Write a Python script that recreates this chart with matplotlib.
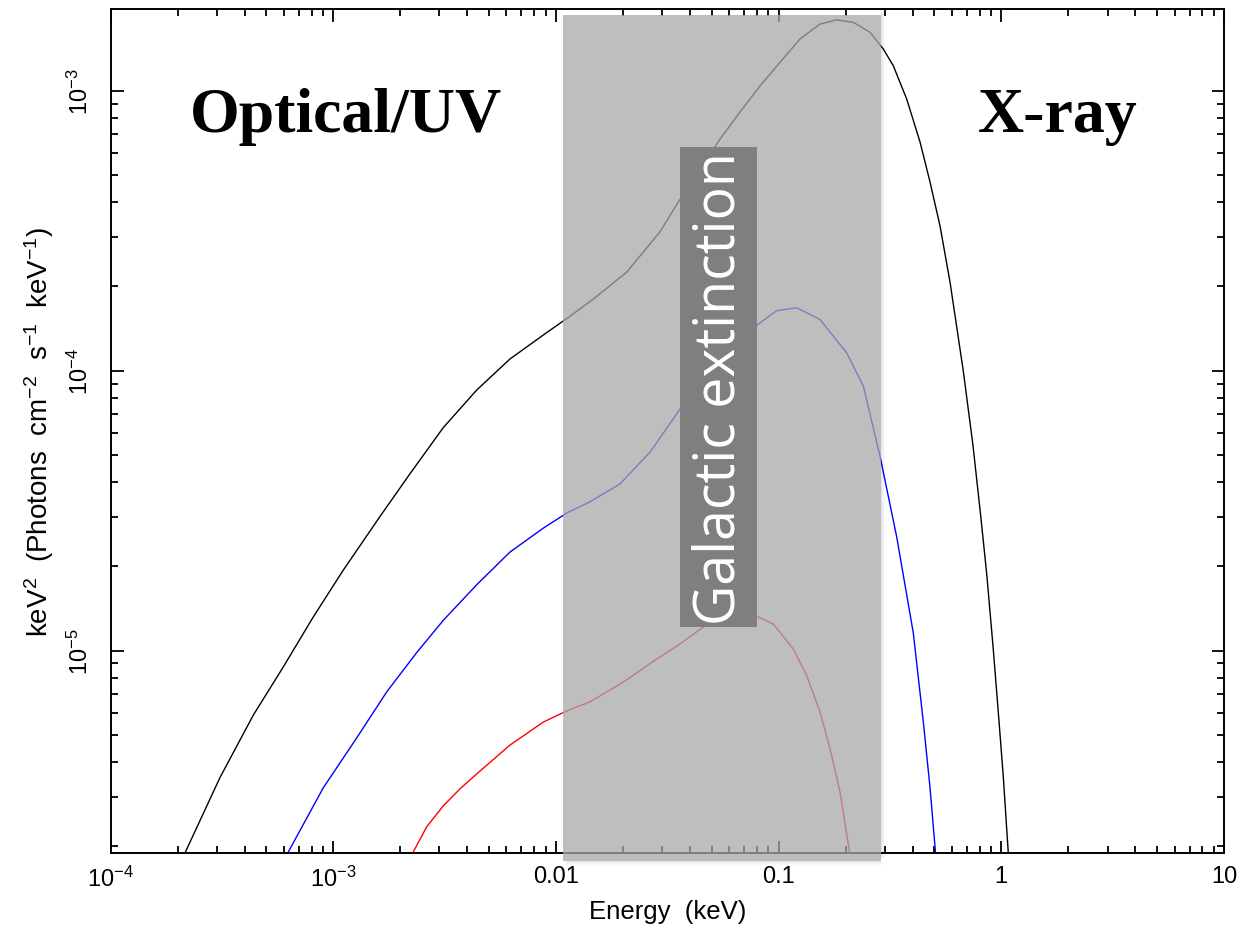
import matplotlib
matplotlib.use("Agg")
import matplotlib.pyplot as plt
from matplotlib.patches import Rectangle
from matplotlib.ticker import LogLocator, NullFormatter

plt.rcParams['font.family'] = ['Liberation Sans', 'DejaVu Sans']
plt.rcParams['mathtext.fontset'] = 'custom'
plt.rcParams['mathtext.rm'] = 'Liberation Sans'
plt.rcParams['mathtext.it'] = 'Liberation Sans:italic'
plt.rcParams['mathtext.bf'] = 'Liberation Sans:bold'

# model spectra, E in keV, flux in keV^2 (photons cm^-2 s^-1 keV^-1)
black_E = [2.13e-4, 3.10e-4, 4.38e-4, 5.97e-4, 8.14e-4, 1.11e-3, 1.62e-3, 2.21e-3,
           3.12e-3, 4.41e-3, 6.22e-3, 8.78e-3, 1.118e-2, 1.47e-2, 2.08e-2, 2.93e-2,
           3.61e-2, 4.44e-2, 5.46e-2, 6.71e-2, 8.25e-2, 0.1015, 0.1247, 0.1535,
           0.1824, 0.2164, 0.2573, 0.2951, 0.3273, 0.376, 0.4315, 0.4786, 0.5306,
           0.5886, 0.675, 0.7457, 0.8075, 0.860, 0.9196, 0.9772, 1.021, 1.077]
black_F = [1.85e-6, 3.52e-6, 5.89e-6, 8.75e-6, 1.32e-5, 1.94e-5, 3.01e-5, 4.28e-5,
           6.26e-5, 8.53e-5, 1.101e-4, 1.341e-4, 1.535e-4, 1.80e-4, 2.25e-4, 3.13e-4,
           4.10e-4, 5.25e-4, 6.72e-4, 8.39e-4, 1.04e-3, 1.263e-3, 1.53e-3, 1.73e-3,
           1.79e-3, 1.755e-3, 1.617e-3, 1.41e-3, 1.228e-3, 9.34e-4, 6.56e-4, 4.72e-4,
           3.29e-4, 2.07e-4, 9.98e-5, 5.43e-5, 3.05e-5, 1.88e-5, 1.02e-5, 5.56e-6,
           3.54e-6, 1.85e-6]

blue_E = [6.15e-4, 9.03e-4, 1.275e-3, 1.74e-3, 2.37e-3, 3.12e-3, 4.41e-3, 6.22e-3,
          8.78e-3, 1.118e-2, 1.42e-2, 1.94e-2, 2.65e-2, 3.36e-2, 3.61e-2, 4.44e-2,
          5.46e-2, 6.71e-2, 8.11e-2, 9.80e-2, 0.1206, 0.1535, 0.2021, 0.240, 0.2853,
          0.339, 0.4026, 0.4466, 0.4786, 0.508]
blue_F = [1.85e-6, 3.24e-6, 4.88e-6, 7.13e-6, 9.84e-6, 1.283e-5, 1.72e-5, 2.25e-5,
          2.74e-5, 3.10e-5, 3.40e-5, 3.94e-5, 5.125e-5, 6.72e-5, 7.30e-5, 8.82e-5,
          1.065e-4, 1.266e-4, 1.468e-4, 1.638e-4, 1.677e-4, 1.523e-4, 1.159e-4, 8.82e-5,
          4.96e-5, 2.55e-5, 1.157e-5, 5.56e-6, 3.24e-6, 1.85e-6]

red_E = [2.24e-3, 2.63e-3, 3.12e-3, 3.71e-3, 4.41e-3, 6.22e-3, 8.78e-3, 1.118e-2,
         1.42e-2, 2.01e-2, 2.84e-2, 3.61e-2, 4.59e-2, 5.46e-2, 6.71e-2, 8.11e-2,
         9.47e-2, 0.1164, 0.1337, 0.1535, 0.1702, 0.1887, 0.2095]
red_F = [1.85e-6, 2.35e-6, 2.79e-6, 3.21e-6, 3.63e-6, 4.60e-6, 5.56e-6, 6.09e-6,
         6.56e-6, 7.73e-6, 9.34e-6, 1.057e-5, 1.215e-5, 1.287e-5, 1.341e-5, 1.319e-5,
         1.245e-5, 1.014e-5, 8.14e-6, 6.04e-6, 4.46e-6, 3.13e-6, 1.85e-6]

# shaded band (keV)
band_lo, band_hi = 0.01073, 0.2874

x_ticks = [1e-4, 1e-3, 1e-2, 1e-1, 1, 10]
x_labels = ['$10^{-4}$', '$10^{-3}$', '0.01', '0.1', '1', '10']
y_ticks = [1e-5, 1e-4, 1e-3]
y_labels = ['$10^{-5}$', '$10^{-4}$', '$10^{-3}$']

W, H = 1242, 929
fig = plt.figure(figsize=(W / 100, H / 100), dpi=100)
ax = fig.add_axes([110.5 / W, 1 - 854 / H, 1113.5 / W, 844 / H])

ax.plot(black_E, black_F, color='black', lw=1.0)
ax.plot(blue_E, blue_F, color='#0000ff', lw=1.0)
ax.plot(red_E, red_F, color='#ff0000', lw=1.0)

ax.set_xscale('log')
ax.set_yscale('log')
ax.set_xlim(1e-4, 10)
ax.set_ylim(1.894e-6, 1.958e-3)

ax.set_xticks(x_ticks, x_labels)
ax.set_yticks(y_ticks, y_labels)
for a in (ax.xaxis, ax.yaxis):
    a.set_minor_locator(LogLocator(base=10, subs=range(2, 10), numticks=20))
    a.set_minor_formatter(NullFormatter())
for lbl in ax.get_yticklabels():
    lbl.set_rotation(90)
    lbl.set_va('center')

ax.tick_params(which='both', direction='in', top=True, right=True, width=1.3,
               color='black')
ax.tick_params(which='major', length=9, labelsize=17)
ax.tick_params(which='minor', length=5)
ax.tick_params(axis='x', pad=9)
ax.tick_params(axis='y', pad=13)
for s in ax.spines.values():
    s.set_linewidth(1.4)

ax.set_xlabel('Energy  (keV)', fontsize=18.5, labelpad=6)
ax.set_ylabel(r'keV$^2$  (Photons  cm$^{-2}$  s$^{-1}$  keV$^{-1}$)', fontsize=20,
              labelpad=8)

# translucent band with a soft drop shadow along its right and bottom edges
trans = ax.get_xaxis_transform()
y0, y1 = -0.0095, 0.993
px_x = 5.0 / 222.7  # decades per pixel step
for i, al in enumerate([0.10, 0.07, 0.045, 0.025, 0.012]):
    xa = band_hi * 10 ** (px_x * i / 5.0)
    xb = band_hi * 10 ** (px_x * (i + 1) / 5.0)
    ax.add_patch(Rectangle((xa, y0 + 0.004), xb - xa, y1 - y0,
                           transform=trans, facecolor='black', alpha=al,
                           edgecolor='none', clip_on=False, zorder=4))
    ax.add_patch(Rectangle((band_lo * 10 ** (px_x * 0.6), y0 - (i + 1) / 844),
                           xa - band_lo * 10 ** (px_x * 0.6), 1 / 844,
                           transform=trans, facecolor='black', alpha=al,
                           edgecolor='none', clip_on=False, zorder=4))
ax.add_patch(Rectangle((band_lo, y0), band_hi - band_lo, y1 - y0,
                       transform=trans, facecolor='#a8a8a8', alpha=0.75,
                       edgecolor='none', clip_on=False, zorder=4.5))

# label box
ax.add_patch(Rectangle((0.5115, 0.2678), 0.0691, 0.5687, transform=ax.transAxes,
                       facecolor='#7f7f7f', edgecolor='none', zorder=5))
ax.text(0.5475, 0.552, 'Galactic extinction', transform=ax.transAxes, rotation=90,
        ha='center', va='center', color='white', fontsize=40,
        family=['Open Sans', 'DejaVu Sans'], zorder=6)

fig.text(190 / W, 1 - 132 / H, 'Optical/UV', family=['Liberation Serif'],
         fontweight='bold', fontsize=46, va='baseline', ha='left')
fig.text(978 / W, 1 - 132 / H, 'X-ray', family=['Liberation Serif'],
         fontweight='bold', fontsize=46, va='baseline', ha='left')

fig.savefig('out.png', dpi=100)
